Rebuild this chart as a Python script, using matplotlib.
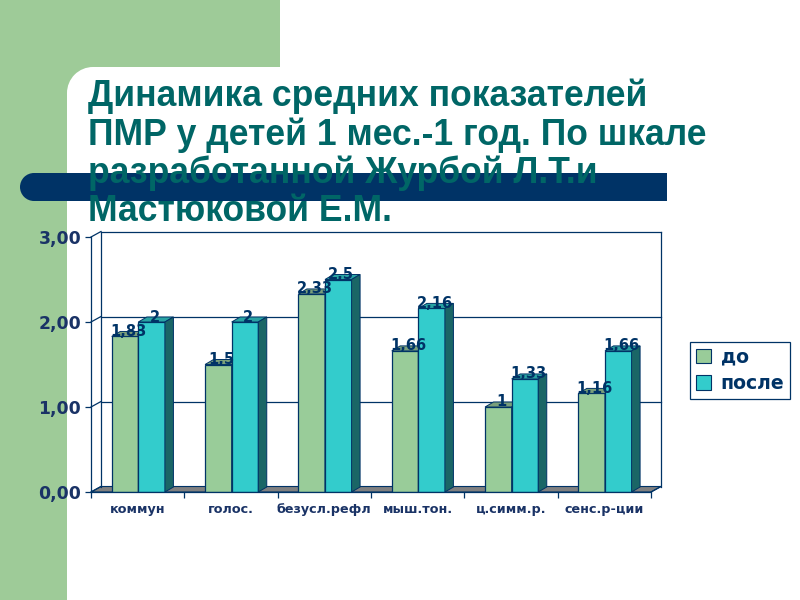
import matplotlib
matplotlib.use("Agg")
import matplotlib.pyplot as plt
from matplotlib.patches import Rectangle, Ellipse, Circle, Polygon, Patch

categories = ["коммун", "голос.", "безусл.рефл", "мыш.тон.", "ц.симм.р.", "сенс.р-ции"]
before = [1.83, 1.5, 2.33, 1.66, 1, 1.16]
after = [2, 2, 2.5, 2.16, 1.33, 1.66]
y_ticks = [0, 1, 2, 3]
series_names = ["до", "после"]
title_lines = ["Динамика средних показателей",
               "ПМР у детей 1 мес.-1 год. По шкале",
               "разработанной Журбой Л.Т.и",
               "Мастюковой Е.М."]

GREEN = "#9ECB98"
BAR_GREEN = "#99CC99"
BAR_CYAN = "#33CCCC"
NAVY = "#003366"
TEAL = "#006666"
LABEL = "#1A3366"

W, H = 800, 600
fig = plt.figure(figsize=(8, 6), dpi=100, facecolor="white")

# ── slide background, pixel coordinates ──────────────────────────────────────
bg = fig.add_axes([0, 0, 1, 1], zorder=0)
bg.set_xlim(0, W); bg.set_ylim(H, 0); bg.axis("off")
bg.add_patch(Rectangle((0, 0), 280, 67, color=GREEN, lw=0))
bg.add_patch(Rectangle((0, 0), 67, H, color=GREEN, lw=0))
bg.add_patch(Rectangle((67, 67), 26, 26, color=GREEN, lw=0))
bg.add_patch(Circle((93, 93), 26, color="white", lw=0))
bg.add_patch(Rectangle((34, 173), 633, 28, color=NAVY, lw=0))
bg.add_patch(Ellipse((34, 187), 28, 28, color=NAVY, lw=0))

for baseline, line in zip([106, 145, 183, 221], title_lines):
    bg.text(88, baseline, line, color=TEAL, fontsize=25.6, fontweight="bold",
            family="Liberation Sans", va="baseline", ha="left")

# ── chart: front plane of the 3D box ─────────────────────────────────────────
left, right, bottom, top = 91, 651, 492, 237
ax = fig.add_axes([left / W, 1 - bottom / H, (right - left) / W, (bottom - top) / H], zorder=1)
ax.patch.set_alpha(0)
n = len(categories)
ax.set_xlim(0, n); ax.set_ylim(0, 3)

# pixel depths converted to data units
px_x = n / (right - left)
px_y = 3 / (bottom - top)
wall_dx, wall_dy = 10 * px_x, 5.5 * px_y
bar_dx, bar_dy = 8.5 * px_x, 5 * px_y

ax.add_patch(Polygon([(0, 0), (n, 0), (n + wall_dx, wall_dy), (wall_dx, wall_dy)],
                     facecolor="#808080", edgecolor=NAVY, lw=0.8, clip_on=False, zorder=1))
for v in y_ticks:
    ax.plot([0, wall_dx], [v, v + wall_dy], color=NAVY, lw=0.9, clip_on=False, zorder=1)
    if v > 0:
        ax.plot([wall_dx, n + wall_dx], [v + wall_dy] * 2, color=NAVY, lw=0.9, clip_on=False, zorder=1)
ax.plot([wall_dx, wall_dx], [wall_dy, 3 + wall_dy], color=NAVY, lw=0.9, clip_on=False, zorder=1)
ax.plot([n + wall_dx, n + wall_dx], [wall_dy, 3 + wall_dy], color=NAVY, lw=0.9, clip_on=False, zorder=1)
ax.plot([n, n + wall_dx], [0, wall_dy], color=NAVY, lw=0.9, clip_on=False, zorder=1)


def draw_bars(x_left, values, width, face, top_face, side_face, zorder):
    """Front faces through ax.bar, then top and side faces as offset polygons."""
    ax.bar(x_left, values, width=width, align="edge", color=face,
           edgecolor=NAVY, linewidth=0.9, zorder=zorder)
    for x0, v in zip(x_left, values):
        x1 = x0 + width
        ax.add_patch(Polygon([(x0, v), (x1, v), (x1 + bar_dx, v + bar_dy), (x0 + bar_dx, v + bar_dy)],
                             facecolor=top_face, edgecolor=NAVY, lw=0.7, clip_on=False, zorder=zorder))
        ax.add_patch(Polygon([(x1, 0), (x1 + bar_dx, bar_dy), (x1 + bar_dx, v + bar_dy), (x1, v)],
                             facecolor=side_face, edgecolor=NAVY, lw=0.7, clip_on=False, zorder=zorder))


bar_w = 0.285
x_before = [i + 0.222 for i in range(n)]
x_after = [x + bar_w for x in x_before]
draw_bars(x_before, before, bar_w, BAR_GREEN, "#7A9F7A", "#5F8F6F", 3)
draw_bars(x_after, after, bar_w, BAR_CYAN, "#29A3A3", "#1A6666", 4)

for xs, values in ((x_before, before), (x_after, after)):
    for x0, v in zip(xs, values):
        ax.text(x0 + bar_w / 2 + 3 * px_x, v - 2.5 * px_y, f"{v:g}".replace(".", ","),
                ha="center", va="bottom", color=NAVY, fontsize=10.5, fontweight="bold",
                clip_on=False, zorder=6)

# ── axes, ticks ──────────────────────────────────────────────────────────────
for side in ("top", "right"):
    ax.spines[side].set_visible(False)
for side in ("left", "bottom"):
    ax.spines[side].set_color(NAVY)
    ax.spines[side].set_linewidth(0.9)
    ax.spines[side].set_zorder(5)

ax.set_yticks(y_ticks)
ax.set_yticklabels([f"{v:.2f}".replace(".", ",") for v in y_ticks],
                   fontsize=12.4, fontweight="bold", color=LABEL)
ax.tick_params(axis="y", length=4, width=0.9, color=NAVY, pad=3)
ax.set_xticks(range(n + 1))
ax.set_xticklabels([])
ax.tick_params(axis="x", which="major", length=4, width=0.9, color=NAVY)
ax.set_xticks([i + 0.5 for i in range(n)], minor=True)
ax.set_xticklabels(categories, minor=True, fontsize=9.2, fontweight="bold", color=LABEL)
ax.tick_params(axis="x", which="minor", length=0, pad=8)

handles = [Patch(facecolor=BAR_GREEN, edgecolor=NAVY, lw=0.8),
           Patch(facecolor=BAR_CYAN, edgecolor=NAVY, lw=0.8)]
leg = fig.legend(handles, series_names, loc="upper left",
                 bbox_to_anchor=(690 / W, 1 - 341.5 / H), bbox_transform=fig.transFigure,
                 frameon=True, fancybox=False, framealpha=1, edgecolor=NAVY,
                 borderaxespad=0, borderpad=0.32, handlelength=0.8, handleheight=0.8,
                 handletextpad=0.5, labelspacing=0.4, labelcolor=NAVY,
                 prop={"weight": "bold", "size": 13.6})
leg.get_frame().set_linewidth(0.9)

fig.savefig("out.png", dpi=100)
